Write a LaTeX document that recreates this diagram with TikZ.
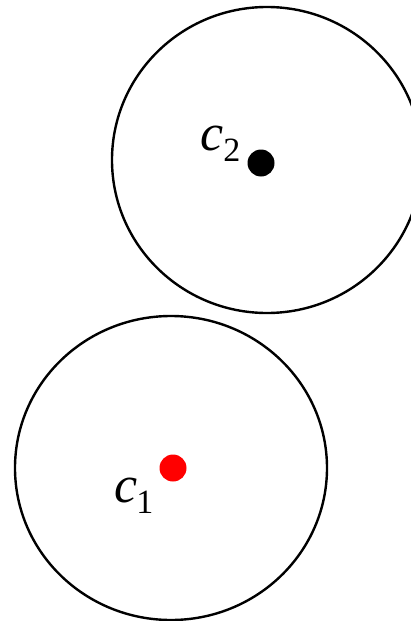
\documentclass[tikz,border=0pt]{standalone}
\usepackage{fontspec}
\setmainfont{Liberation Serif}
\usetikzlibrary{shapes.geometric}
\tikzset{
  ring/.style={draw=black, line width=2.4pt, ellipse, inner sep=0pt},
  centre/.style={circle, inner sep=0pt, minimum size=27pt},
  lab/.style={inner sep=0pt, anchor=base west, font=\fontsize{52}{52}\selectfont\itshape}
}
\newcommand{\subdigit}[1]{\raisebox{-11pt}{\fontsize{34}{34}\selectfont\upshape #1}}
\begin{document}
\begin{tikzpicture}[x=1pt,y=-1pt]
\useasboundingbox (0,0) rectangle (411,621);
\clip (0,0) rectangle (411,621);
\node[ring, minimum width=310pt, minimum height=306pt] (C2) at (267,160) {};
\node[ring, minimum width=312pt, minimum height=304pt] (C1) at (171,468) {};
\node[centre, fill=black] (d2) at (261,163) {};
\node[centre, fill=red] (d1) at (173,468) {};
\node[lab] (l2) at (200,150) {c\kern0pt\subdigit{2}};
\node[lab] (l1) at (114,502) {c\kern-1pt\subdigit{1}};
\end{tikzpicture}
\end{document}
